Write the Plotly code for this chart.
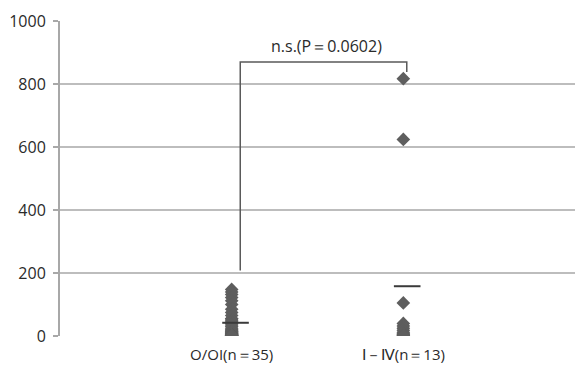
import plotly.graph_objects as go

categories = ["O/OI(n＝35)", "Ⅰ－Ⅳ(n＝13)"]
cat_x = [1, 2]

group1_values = [148, 140, 132, 122, 112, 100, 85, 75, 65, 55, 55, 50, 45, 40, 35, 30,
                 25, 20, 18, 15, 14, 12, 10, 9, 8, 6, 5, 4, 3, 2, 2, 2, 0.5, 0.5, 0.3]
group2_values = [817, 624, 105, 40, 32, 25, 18, 12, 8, 5, 3, 1, 0]
mean_values = [42, 158]

y_ticks = [0, 200, 400, 600, 800, 1000]
p_label = "n.s.(P＝0.0602)"

bracket_x = [1.05, 2.02]
bracket_y_left = 208
bracket_y_top = 870
bracket_y_right = 838

marker_color = "#5e5e5e"
font_family = "Open Sans, Noto Sans, sans-serif"

fig = go.Figure()

for xv, vals in zip(cat_x, [group1_values, group2_values]):
    fig.add_trace(go.Scatter(
        x=[xv] * len(vals), y=vals, mode="markers",
        marker=dict(symbol="diamond", size=10.5, color=marker_color, line=dict(width=0)),
        showlegend=False, hoverinfo="y"))

# mean lines
for xv, m in zip(cat_x, mean_values):
    fig.add_trace(go.Scatter(
        x=[xv - 0.055, xv + 0.1], y=[m, m], mode="lines",
        line=dict(color="#3a3a3a", width=2), showlegend=False, hoverinfo="skip"))

# significance bracket
fig.add_trace(go.Scatter(
    x=[bracket_x[0], bracket_x[0], bracket_x[1], bracket_x[1]],
    y=[bracket_y_left, bracket_y_top, bracket_y_top, bracket_y_right],
    mode="lines", line=dict(color="#5a5a5a", width=1.5),
    showlegend=False, hoverinfo="skip"))

fig.add_annotation(x=sum(bracket_x) / 2 + 0.02, y=bracket_y_top, yshift=3,
                   text=p_label, showarrow=False, yanchor="bottom",
                   font=dict(family=font_family, size=16, color="#2a2a2a"))

fig.update_layout(
    width=575, height=365,
    margin=dict(l=60, r=0, t=21, b=29, pad=0, autoexpand=False),
    paper_bgcolor="white", plot_bgcolor="white",
    font=dict(family=font_family, size=16, color="#2a2a2a"),
    xaxis=dict(range=[0, 3], tickmode="array", tickvals=cat_x, ticktext=categories,
               showgrid=False, zeroline=False, showline=False, automargin=False,
               ticks="outside", ticklen=5, tickcolor="rgba(0,0,0,0)",
               tickfont=dict(size=15, color="#2a2a2a")),
    yaxis=dict(range=[0, 1000], tickmode="array", tickvals=y_ticks,
               ticktext=[str(v) for v in y_ticks], automargin=False,
               showgrid=True, gridcolor="#bdbdbd", gridwidth=2,
               zeroline=False, showline=True, linecolor="#a8a8a8", linewidth=2,
               ticks="outside", ticklen=5, tickcolor="#a8a8a8", tickwidth=1.5,
               ticklabelstandoff=4,
               tickfont=dict(size=16, color="#2a2a2a")),
)

fig.write_html("out.html", config={"displayModeBar": False},
               post_script="document.body.style.margin='0';document.body.style.padding='0';")
